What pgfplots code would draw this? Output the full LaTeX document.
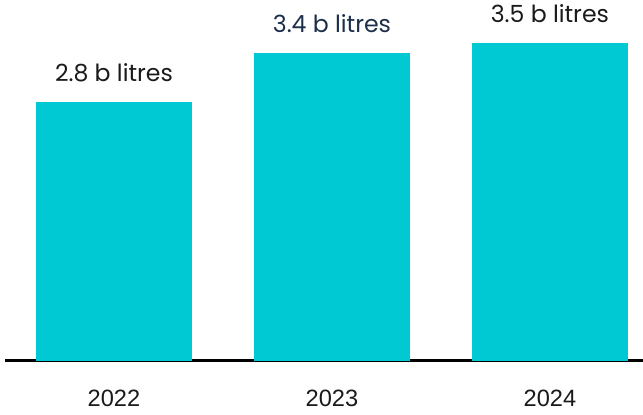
\documentclass[border=0pt]{standalone}
\usepackage{fontspec}
\setmainfont{Poppins}
\newfontfamily\tickfont{Liberation Sans}
\usepackage{pgfplots}
\pgfplotsset{compat=1.18}
\definecolor{barc}{HTML}{00C9D3}
\definecolor{navy}{HTML}{1C2F4A}
\definecolor{lab}{HTML}{1A1A1A}
\begin{document}
\begin{tikzpicture}[x=1pt,y=1pt]
\useasboundingbox (0,0) rectangle (643,415);
\begin{axis}[
  at={(5pt,54.3pt)}, anchor=south west,
  scale only axis, width=638pt, height=360.7pt,
  xmin=-0.5, xmax=2.427, ymin=0, ymax=3.97,
  clip=false,
  hide y axis,
  axis x line*=bottom,
  x axis line style={black, line width=2.8pt, -},
  xtick={0,1,2}, xticklabels={2022,2023,2024},
  major tick length=0pt,
  xticklabel style={font=\tickfont\fontsize{23.6}{28}\selectfont, text=lab, anchor=base, yshift=-46pt},
  ybar, bar width=156pt, bar shift=0pt,
  nodes near coords style={font=\fontsize{23.6}{28}\selectfont, anchor=base, yshift=20pt},
]
\addplot[fill=barc, draw=none, nodes near coords={2.8 b litres}, nodes near coords style={text=lab}] coordinates {(0,2.85)};
\addplot[fill=barc, draw=none, nodes near coords={3.4 b litres}, nodes near coords style={text=navy}] coordinates {(1,3.39)};
\addplot[fill=barc, draw=none, nodes near coords={3.5 b litres}, nodes near coords style={text=lab}] coordinates {(2,3.5)};
\end{axis}
\end{tikzpicture}
\end{document}
